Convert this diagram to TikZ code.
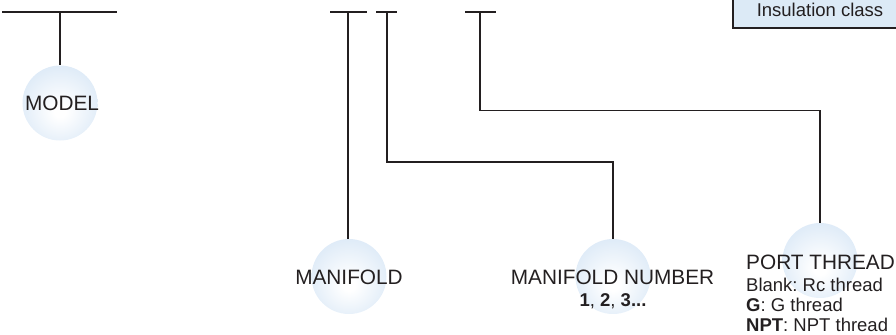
\documentclass[tikz,border=0pt]{standalone}
\usepackage{fontspec}
\setmainfont{Liberation Sans}
\frenchspacing
\definecolor{bub}{RGB}{208,226,244}
\definecolor{ink}{RGB}{35,31,32}
\definecolor{boxfill}{RGB}{220,234,246}
\pgfdeclareradialshading{bubshade}{\pgfpoint{0bp}{-6bp}}{color(0bp)=(white); color(4bp)=(white); color(30bp)=(bub!75!white); color(50bp)=(bub)}
\tikzset{
  bubble/.style={circle, minimum size=75bp, inner sep=0pt, shading=bubshade},
  lbl/.style={text=ink, inner sep=0pt, font=\fontsize{20.8bp}{24bp}\selectfont, anchor=base},
  sub/.style={text=ink, inner sep=0pt, font=\fontsize{18.5bp}{22bp}\selectfont, anchor=base},
  conn/.style={draw=ink, line width=1.3bp},
}
\begin{document}
\begin{tikzpicture}[x=1bp, y=-1bp]
\clip (0,0) rectangle (896,334);
% insulation class box
\node[draw=ink, fill=boxfill, line width=1.3bp, minimum width=174bp, minimum height=36bp, inner sep=0pt] (ins) at (820,10) {};
\node[sub] (instext) at (820,16) {Insulation class};
% bubbles
\node[bubble] (model) at (60,103) {};
\node[bubble] (manifold) at (349,276.5) {};
\node[bubble] (num) at (613,276.5) {};
\node[bubble] (port) at (820,260.5) {};
% labels
\node[lbl] (modeltext) at (62,110) {MODEL};
\node[lbl] (manifoldtext) at (349,284) {MANIFOLD};
\node[lbl] (numtext) at (612.5,284) {MANIFOLD NUMBER};
\node[sub] (numsub) at (613,306) {\textbf{1}, \textbf{2}, \textbf{3...}};
\node[lbl, anchor=base west] (porttext) at (746,269) {PORT THREAD};
\node[sub, anchor=base west] (port1) at (746,291.5) {Blank: Rc thread};
\node[sub, anchor=base west] (port2) at (746,311.5) {\textbf{G}: G thread};
\node[sub, anchor=base west] (port3) at (746,331) {\textbf{NPT}: NPT thread};
% top bars
\coordinate (b1l) at (2,12);   \coordinate (b1r) at (117,12);  \coordinate (t1) at (60,12);
\coordinate (b2l) at (330,12); \coordinate (b2r) at (367,12);  \coordinate (t2) at (348,12);
\coordinate (b3l) at (376,12); \coordinate (b3r) at (397,12);  \coordinate (t3) at (387,12);
\coordinate (b4l) at (465,12); \coordinate (b4r) at (496,12);  \coordinate (t4) at (480,12);
\draw[conn] (b1l) -- (b1r);
\draw[conn] (b2l) -- (b2r);
\draw[conn] (b3l) -- (b3r);
\draw[conn] (b4l) -- (b4r);
% connectors
\coordinate (c3) at (613,162);
\coordinate (c4) at (820,110.5);
\draw[conn] (t1) -- (model.north);
\draw[conn] (t2) -- (manifold.north -| t2);
\draw[conn] (t3) |- (c3) -- (num.north);
\draw[conn] (t4) |- (c4) -- (port.north);
\end{tikzpicture}
\end{document}
